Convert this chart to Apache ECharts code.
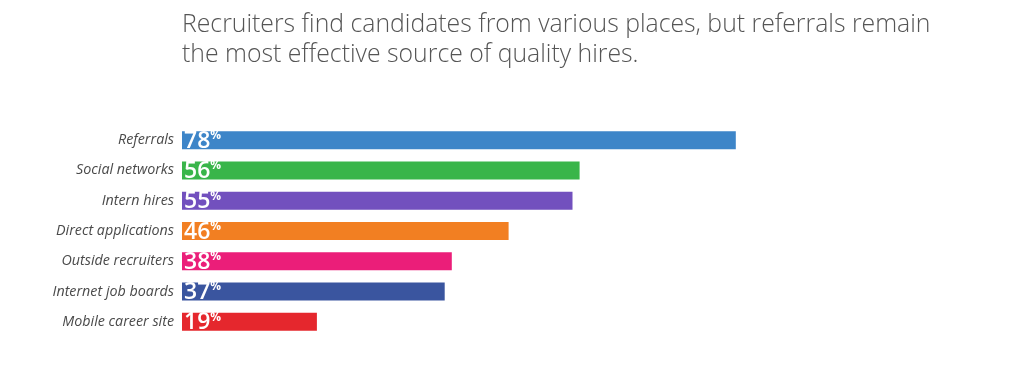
<!DOCTYPE html>
<html><head><meta charset="utf-8">
<script src="https://cdn.jsdelivr.net/npm/echarts@6/dist/echarts.min.js"></script>
<style>html,body{margin:0;padding:0;background:#fff}#c{width:1024px;height:365px}</style>
</head><body><div id="c"></div>
<script>
const categories = ['Referrals','Social networks','Intern hires','Direct applications','Outside recruiters','Internet job boards','Mobile career site'];
const values = [78,56,55,46,38,37,19];
const colors = ['#3D85C8','#39B54A','#7250BE','#F27F22','#EB1E79','#3A559F','#E5272D'];
const titleText = 'Recruiters find candidates from various places, but referrals remain\nthe most effective source of quality hires.';

const chart = echarts.init(document.getElementById('c'));
chart.setOption({
  animation:false,
  title:{text:titleText,left:177,top:5,textStyle:{fontFamily:'Open Sans',fontWeight:300,fontSize:24.8,color:'#555',lineHeight:30}},
  grid:{left:182,top:125,width:710,height:212},
  xAxis:{type:'value',min:0,max:100,show:false},
  yAxis:{type:'category',inverse:true,data:categories,axisLine:{show:false},axisTick:{show:false},
    axisLabel:{fontFamily:'Open Sans',fontStyle:'italic',fontSize:14.3,color:'#4a4a4a',margin:8}},
  series:[{type:'bar',barWidth:18,
    data:values.map((v,i)=>({value:v,itemStyle:{color:colors[i]}})),
    label:{show:true,position:'insideLeft',offset:[-3,1],
      formatter:p=>'{v|'+p.value+'}{p|%}',
      rich:{v:{fontFamily:'Open Sans',fontSize:23,fontWeight:600,color:'#fff'},
            p:{fontFamily:'Open Sans',fontSize:12,fontWeight:700,color:'#fff',verticalAlign:'top',padding:[0,0,10,0]}}}
  }]
});
</script></body></html>
